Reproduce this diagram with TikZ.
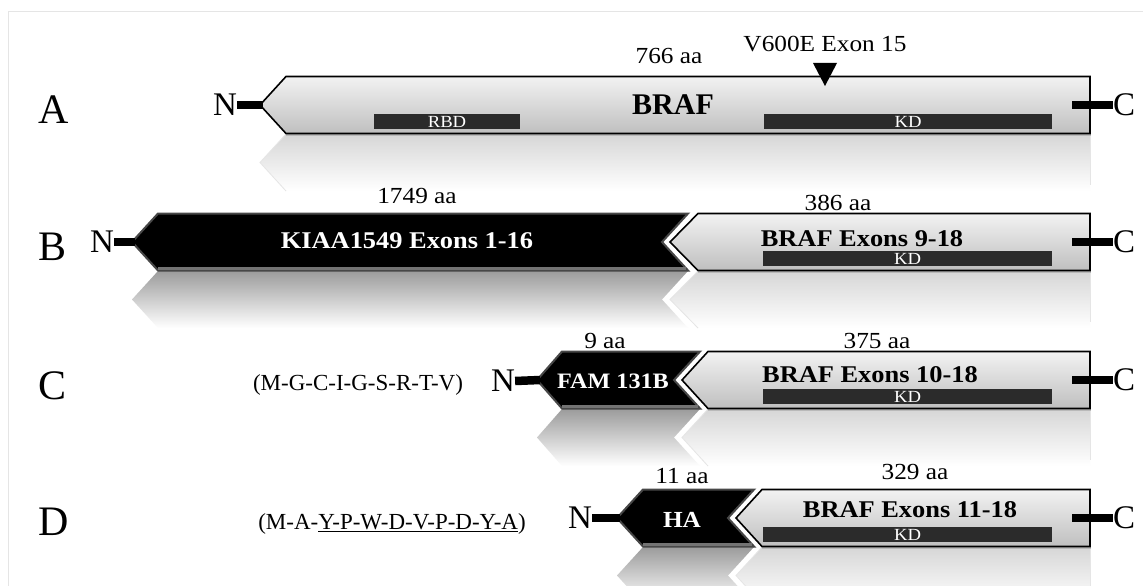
\documentclass[tikz,border=0pt]{standalone}
\usepackage{fontspec}
\setmainfont{Liberation Serif}
\newfontfamily\wideA[FakeStretch=1.1]{Liberation Serif}
% light (BRAF) part: tip x, corner x, centre y
\newcommand{\lightpart}[3]{%
  \shade[top color=gray!32, bottom color=white] (#2,#3+29) -- (1090,#3+29) -- (1090,#3+86) -- (#2,#3+86) -- (#1,#3+57.5) -- cycle;
  \draw[gray!20, line width=0.8] (#2,#3+29) -- (#1,#3+57.5) -- (#2,#3+86);
  \draw[gray!20, line width=0.8] (1090,#3+29) -- (1090,#3+80);
  \draw[gray!55, line width=2.5] (#2,#3+30) -- (1091,#3+30);
  \shade[top color=gray!10, bottom color=gray!50, draw=black, line width=1.6] (#1,#3) -- (#2,#3-28.5) -- (1090,#3-28.5) -- (1090,#3+28.5) -- (#2,#3+28.5) -- cycle;
}
% black (fusion partner) part: tip, corner, right corner, notch, centre y
\newcommand{\blackpart}[5]{%
  \shade[top color=gray!78, bottom color=white] (#2,#5+29) -- (#3,#5+29) -- (#4,#5+57.5) -- (#3,#5+86) -- (#2,#5+86) -- (#1,#5+57.5) -- cycle;
  \filldraw[fill=black, draw=black!72, line width=2] (#1,#5) -- (#2,#5-28.5) -- (#3,#5-28.5) -- (#4,#5) -- (#3,#5+28.5) -- (#2,#5+28.5) -- cycle;
  \draw[black!55, line width=2.5] (#2,#5+26.5) -- (#3-2,#5+26.5);
}
\begin{document}
\begin{tikzpicture}[x=1pt,y=-1pt,
  rowlbl/.style={font=\fontsize{42}{42}\selectfont, inner sep=0pt, anchor=west},
  term/.style={font=\fontsize{33}{33}\selectfont, inner sep=0pt},
  aalbl/.style={font=\wideA\fontsize{23}{23}\selectfont, inner sep=0pt},
  seq/.style={font=\fontsize{23}{23}\selectfont, inner sep=0pt},
  wtxt/.style={text=white, font=\wideA\bfseries\fontsize{24}{24}\selectfont, inner sep=0pt},
  btxt/.style={text=black, font=\wideA\bfseries\fontsize{24}{24}\selectfont, inner sep=0pt},
  dombar/.style={fill=black!83, text=white, font=\wideA\fontsize{17}{17}\selectfont, inner sep=0pt, minimum height=15pt},
  stub/.style={line width=8.5pt, draw=black}
]
\useasboundingbox (0,0) rectangle (1143,586);
\fill[white] (0,0) rectangle (1143,586);
\draw[gray!20, line width=1] (8.5,586) -- (8.5,11.5) -- (1143,11.5);

% ---------------- Row A ----------------
\lightpart{260}{286}{105}
\node[dombar, minimum width=146pt] (rbdA) at (447,121.5) {RBD};
\node[dombar, minimum width=288pt] (kdA) at (908,121.5) {KD};
\node[font=\bfseries\fontsize{30}{30}\selectfont, inner sep=0pt] (brafA) at (673,105) {BRAF};
\node[aalbl] (aaA) at (669,56) {766 aa};
\node[aalbl] (v600) at (825,44) {V600E Exon 15};
\fill[black] (813,63) -- (837,63) -- (825,86) -- cycle;
\node[rowlbl] (lA) at (38,110) {A};
\node[term] (nA) at (225,105) {N};
\node[term] (cA) at (1124,105) {C};
\coordinate (tipA) at (263,105);
\coordinate (endA) at (1072,105);
\draw[stub] (nA.east) -- (tipA);
\draw[stub] (endA) -- (cA.west);

% ---------------- Row B ----------------
\blackpart{132}{158}{688}{662}{242}
\lightpart{670}{698}{242}
\node[wtxt] (kiaa) at (407,241) {KIAA1549 Exons 1-16};
\node[btxt] (brafB) at (862,239) {BRAF Exons 9-18};
\node[dombar, minimum width=289pt] (kdB) at (907.5,258.5) {KD};
\node[aalbl] (aaB1) at (417,196) {1749 aa};
\node[aalbl] (aaB2) at (838,203) {386 aa};
\node[rowlbl] (lB) at (38,247) {B};
\node[term] (nB) at (102,242) {N};
\node[term] (cB) at (1124,242) {C};
\coordinate (tipB) at (135,242);
\coordinate (endB) at (1072,242);
\draw[stub] (nB.east) -- (tipB);
\draw[stub] (endB) -- (cB.west);

% ---------------- Row C ----------------
\blackpart{537}{562}{700}{674}{380}
\lightpart{682}{708}{380}
\node[wtxt, font=\wideA\bfseries\fontsize{22}{22}\selectfont] (fam) at (613,381) {FAM 131B};
\node[btxt] (brafC) at (870,375) {BRAF Exons 10-18};
\node[dombar, minimum width=289pt] (kdC) at (907.5,396.5) {KD};
\node[aalbl] (aaC1) at (605,341) {9 aa};
\node[aalbl] (aaC2) at (877,341) {375 aa};
\node[seq] (seqC) at (358,385) {(M-G-C-I-G-S-R-T-V)};
\node[rowlbl] (lC) at (38,386) {C};
\node[term] (nC) at (503,381) {N};
\node[term] (cC) at (1124,380) {C};
\coordinate (tipC) at (540,380);
\coordinate (endC) at (1072,380);
\draw[stub] (nC.east) -- (tipC);
\draw[stub] (endC) -- (cC.west);

% ---------------- Row D ----------------
\blackpart{617}{643}{754}{728}{518}
\lightpart{736}{762}{518}
\node[wtxt, font=\wideA\bfseries\fontsize{23}{23}\selectfont] (ha) at (682,520) {HA};
\node[btxt] (brafD) at (910,510) {BRAF Exons 11-18};
\node[dombar, minimum width=289pt] (kdD) at (907.5,534.5) {KD};
\node[aalbl] (aaD1) at (682,476) {11 aa};
\node[aalbl] (aaD2) at (915,472) {329 aa};
\node[seq] (seqD) at (392,524) {(M-A-\underline{Y-P-W-D-V-P-D-Y-A})};
\node[rowlbl] (lD) at (38,522) {D};
\node[term] (nD) at (580,518) {N};
\node[term] (cD) at (1124,518) {C};
\coordinate (tipD) at (620,518);
\coordinate (endD) at (1072,518);
\draw[stub] (nD.east) -- (tipD);
\draw[stub] (endD) -- (cD.west);
\end{tikzpicture}
\end{document}
